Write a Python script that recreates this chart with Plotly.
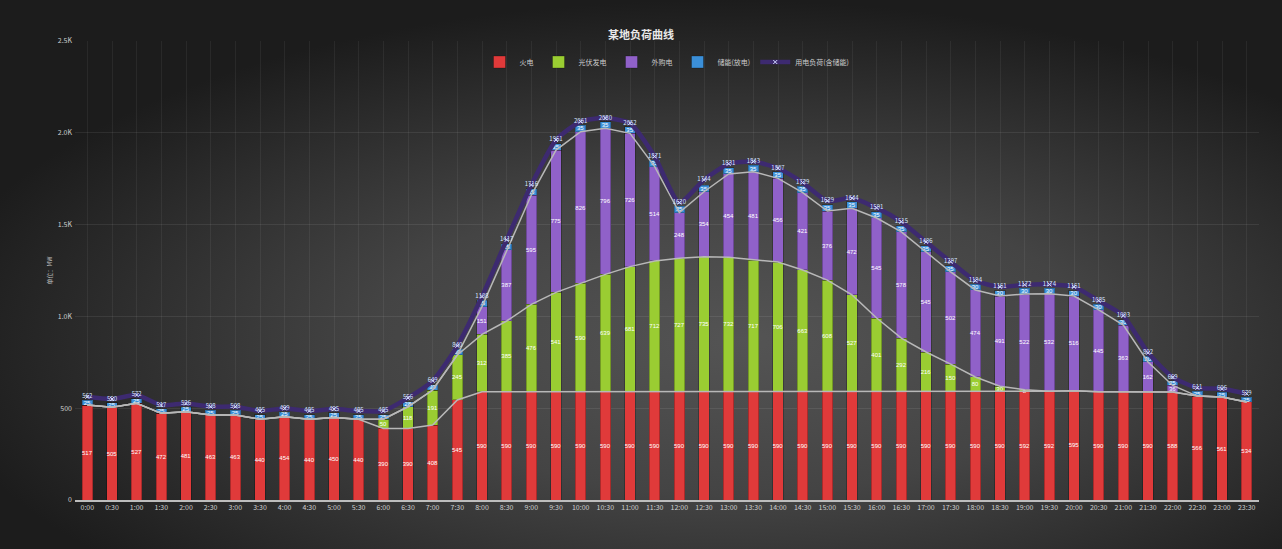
import base64
import plotly.graph_objects as go

times = [f"{h}:{m:02d}" for h in range(24) for m in (0, 30)]

thermal = [517, 505, 527, 472, 481, 463, 463, 440, 454, 440, 450, 440,
           390, 390, 408, 545, 590, 590, 590, 590, 590, 590, 590, 590,
           590, 590, 590, 590, 590, 590, 590, 590, 590, 590, 590, 590,
           590, 590, 592, 592, 595, 590, 590, 590, 588, 566, 561, 534]
solar = [0, 0, 0, 0, 0, 0, 0, 0, 0, 0, 0, 0,
         50, 118, 191, 245, 312, 385, 476, 541, 590, 639, 681, 712,
         727, 735, 732, 717, 706, 663, 608, 527, 401, 292, 216, 150,
         80, 30, 8, 0, 0, 0, 0, 0, 0, 0, 0, 0]
purchased = [0, 0, 0, 0, 0, 0, 0, 0, 0, 0, 0, 0,
             0, 0, 0, 0, 151, 387, 595, 775, 826, 796, 726, 514,
             248, 354, 454, 481, 456, 421, 376, 472, 545, 578, 545, 502,
             474, 491, 522, 532, 516, 445, 363, 162, 36, 0, 0, 0]
storage = [25, 25, 25, 25, 25, 25, 25, 25, 25, 25, 25, 25,
           25, 28, 30, 30, 35, 35, 35, 35, 35, 35, 35, 35,
           35, 35, 35, 35, 35, 35, 35, 35, 35, 35, 35, 35,
           30, 30, 30, 30, 30, 30, 30, 30, 25, 25, 25, 25]
load = [562, 550, 572, 517, 526, 508, 508, 485, 499, 485, 495, 485,
        485, 556, 649, 840, 1108, 1417, 1716, 1961, 2061, 2080, 2052, 1871,
        1620, 1744, 1831, 1843, 1807, 1729, 1629, 1644, 1591, 1515, 1406, 1297,
        1194, 1161, 1172, 1174, 1161, 1085, 1003, 802, 669, 611, 606, 579]

series_names = ["火电", "光伏发电", "外购电", "储能(放电)", "用电负荷(含储能)"]
colors = ["#e03a3a", "#9acd32", "#9061c9", "#3b8fd8", "#3d2a70"]

fig = go.Figure()
for vals, name, col in zip([thermal, solar, purchased, storage], series_names[:4], colors[:4]):
    fig.add_trace(go.Bar(
        x=times, y=vals, name=name,
        marker=dict(color=col, line=dict(color="rgba(0,0,0,0.25)", width=1)),
        text=[str(v) if v > 0 else "" for v in vals],
        textposition="inside", insidetextanchor="middle", textangle=0,
        textfont=dict(color="white", size=6, family="Liberation Sans Narrow, Arial Narrow, sans-serif"),
        hoverinfo="x+y+name",
    ))

# grey guide lines through stacked tops
cum1 = thermal
cum2 = [a + b for a, b in zip(thermal, solar)]
cum3 = [a + b + c for a, b, c in zip(thermal, solar, purchased)]
for cum in (cum1, cum2, cum3):
    fig.add_trace(go.Scatter(x=times, y=cum, mode="lines", showlegend=False,
                             line=dict(color="#b8b8b8", width=1.5), hoverinfo="skip"))

fig.add_trace(go.Scatter(
    x=times, y=load, name=series_names[4], mode="lines+markers+text",
    line=dict(color=colors[4], width=4.5, shape="spline", smoothing=0.6),
    marker=dict(color="#5a4a9a", size=4, symbol="x-thin", line=dict(color="#cfd8ff", width=1)),
    text=[str(v) for v in load], textposition="middle center",
    textfont=dict(color="#d8e4ff", size=6),
))

svg = """<svg xmlns='http://www.w3.org/2000/svg' width='1282' height='549'>
<defs><radialGradient id='g' cx='0.56' cy='0.62' r='0.62' fx='0.58' fy='0.62'>
<stop offset='0' stop-color='#545454'/><stop offset='0.45' stop-color='#444444'/>
<stop offset='1' stop-color='#1c1c1c'/></radialGradient></defs>
<rect width='1282' height='549' fill='url(#g)'/></svg>"""
src = "data:image/svg+xml;base64," + base64.b64encode(svg.encode()).decode()

L, R, T, B = 75, 23, 41, 49
pw, ph = 1282 - L - R, 549 - T - B

fig.update_layout(
    width=1282, height=549,
    margin=dict(l=L, r=R, t=T, b=B),
    barmode="stack", bargap=0.58,
    paper_bgcolor="#2a2a2a", plot_bgcolor="rgba(0,0,0,0)",
    images=[dict(source=src, xref="paper", yref="paper", x=-L / pw, y=1 + T / ph,
                 sizex=1282 / pw, sizey=549 / ph, xanchor="left", yanchor="top",
                 sizing="stretch", layer="below")],
    title=dict(text="<b>某地负荷曲线</b>", x=0.5, xanchor="center", y=1 - 35 / 549, yanchor="middle",
               font=dict(color="#e8e8e8", size=11, family="Noto Sans CJK SC")),
    legend=dict(orientation="h", x=0.5, xanchor="center", y=1 - 21 / ph, yanchor="middle",
                font=dict(color="#cccccc", size=7, family="Noto Sans CJK SC"),
                bgcolor="rgba(0,0,0,0)", itemwidth=30, tracegroupgap=0, traceorder="normal"),
    uniformtext=dict(minsize=6, mode="show"),
    font=dict(family="Noto Sans CJK SC", color="#cccccc"),
    xaxis=dict(showgrid=True, gridcolor="rgba(255,255,255,0.06)", showline=True,
               linecolor="#bdbdbd", linewidth=1.5, ticks="", range=[-0.5, 47.5],
               tickfont=dict(size=7, color="#cfcfcf"), tickangle=0),
    yaxis=dict(range=[0, 2500], tickvals=[0, 500, 1000, 1500, 2000, 2500],
               ticktext=["0", "500", "1.0K", "1.5K", "2.0K", "2.5K"],
               showgrid=True, gridcolor="rgba(255,255,255,0.08)", zeroline=False,
               tickfont=dict(size=7, color="#cfcfcf"), ticklabelstandoff=2,
               title=dict(text="单位：MW", font=dict(size=6, color="#bbbbbb"), standoff=4)),
)

fig.write_html("out.html")
